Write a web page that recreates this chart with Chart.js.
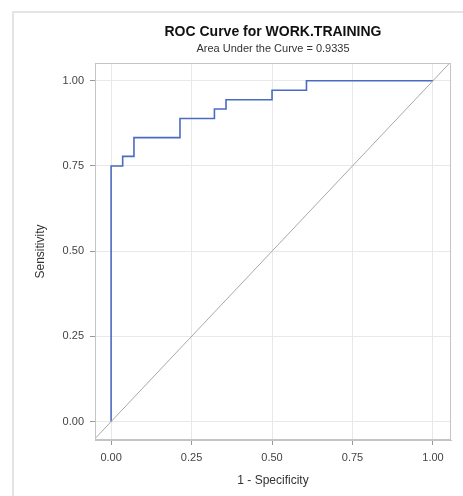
<!DOCTYPE html>
<html><head><meta charset="utf-8">
<script src="https://cdn.jsdelivr.net/npm/chart.js@4.4.0/dist/chart.umd.min.js"></script>
<style>html,body{margin:0;padding:0;background:#fff;} #c{display:block;}</style>
</head><body>
<canvas id="c" width="463" height="496"></canvas>
<script>
const titleText = "ROC Curve for WORK.TRAINING";
const subtitleText = "Area Under the Curve = 0.9335";
const xAxisTitle = "1 - Specificity";
const yAxisTitle = "Sensitivity";
const tickValues = [0, 0.25, 0.5, 0.75, 1];
// ROC curve vertices (1 - specificity, sensitivity)
const fpr = [0, 0, 0.036, 0.036, 0.071, 0.071, 0.214, 0.214, 0.321, 0.321, 0.357, 0.357, 0.500, 0.500, 0.607, 0.607, 1.000];
const tpr = [0, 0.750, 0.750, 0.778, 0.778, 0.833, 0.833, 0.889, 0.889, 0.917, 0.917, 0.944, 0.944, 0.972, 0.972, 1.000, 1.000];
// chance reference line y = x (clipped to plot)
const refX = [-0.1, 1.1];
const refY = [-0.1, 1.1];

const FONT = "'Liberation Sans', Arial, sans-serif";

const framePlugin = {
  id: 'frame',
  beforeDraw(chart) {
    const ctx = chart.ctx;
    ctx.save();
    ctx.fillStyle = '#fff';
    ctx.fillRect(0, 0, chart.width, chart.height);
    ctx.strokeStyle = '#e4e4e4';
    ctx.lineWidth = 2;
    ctx.beginPath();
    ctx.moveTo(13, chart.height);
    ctx.lineTo(13, 12);
    ctx.lineTo(chart.width, 12);
    ctx.stroke();
    ctx.restore();
  },
  afterDraw(chart) {
    const ctx = chart.ctx;
    const a = chart.chartArea;
    ctx.save();
    ctx.strokeStyle = '#c4c4c4';
    ctx.lineWidth = 1;
    ctx.strokeRect(a.left + 0.5, a.top + 0.5, a.right - a.left - 1, a.bottom - a.top - 1);
    const cx = (a.left + a.right) / 2;
    ctx.fillStyle = '#111';
    ctx.textAlign = 'center';
    ctx.textBaseline = 'middle';
    ctx.font = "bold 14px " + FONT;
    ctx.fillText(titleText, cx, 32);
    ctx.fillStyle = '#333';
    ctx.font = "11px " + FONT;
    ctx.fillText(subtitleText, cx, 49);
    ctx.restore();
  }
};

const axisCommon = {
  type: 'linear',
  afterBuildTicks: s => { s.ticks = tickValues.map(v => ({ value: v })); },
  ticks: { callback: v => Number(v).toFixed(2), color: '#444', font: { family: FONT, size: 11 }, padding: 6 },
  grid: { color: '#e8e8e8', tickColor: '#999', tickLength: 5, lineWidth: 1 },
  border: { color: '#c4c4c4' }
};

new Chart(document.getElementById('c'), {
  type: 'scatter',
  data: {
    datasets: [
      {
        data: refX.map((x, i) => ({ x: x, y: refY[i] })),
        showLine: true, borderColor: '#a8a8a8', borderWidth: 1, pointRadius: 0, fill: false
      },
      {
        data: fpr.map((x, i) => ({ x: x, y: tpr[i] })),
        showLine: true, borderColor: '#4a6cc0', borderWidth: 1.6, pointRadius: 0, fill: false, tension: 0
      }
    ]
  },
  options: {
    responsive: false,
    animation: false,
    layout: { padding: { top: 63, right: 12, left: 0, bottom: 0 } },
    plugins: { legend: { display: false }, tooltip: { enabled: false } },
    scales: {
      x: Object.assign({}, axisCommon, {
        min: -0.05, max: 1.056,
        afterFit: s => { s.height = 56; },
        title: { display: true, text: xAxisTitle, color: '#333', font: { family: FONT, size: 12 }, padding: { top: 0, bottom: 8 } }
      }),
      y: Object.assign({}, axisCommon, {
        min: -0.054, max: 1.052,
        afterFit: s => { s.width = 95; },
        title: { display: true, text: yAxisTitle, color: '#333', font: { family: FONT, size: 12 }, padding: { top: 33, bottom: 0 } }
      })
    }
  },
  plugins: [framePlugin]
});
</script>
</body></html>
